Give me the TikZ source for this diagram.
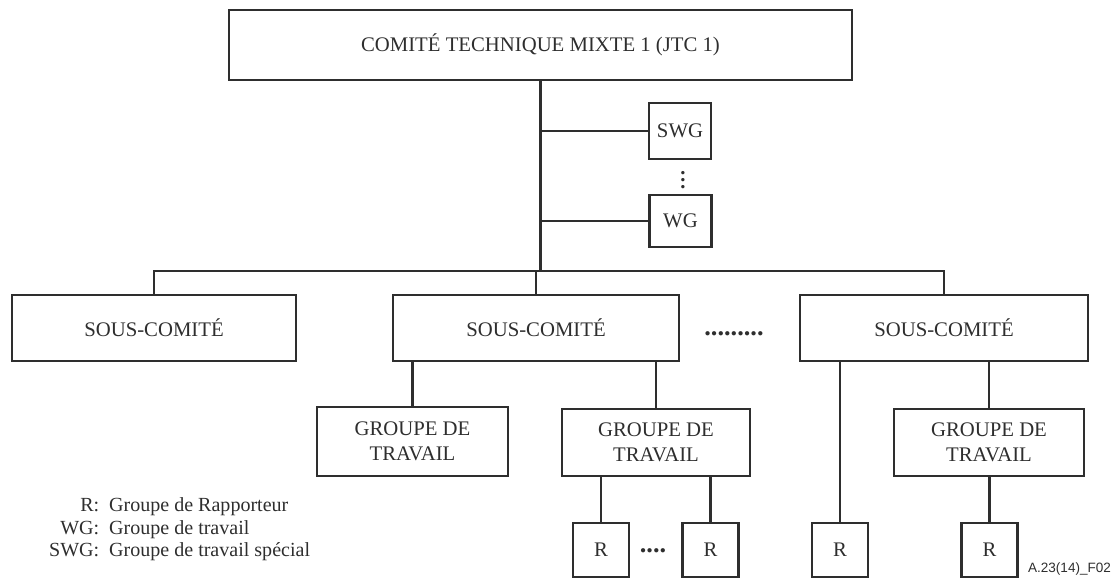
\documentclass[tikz,border=0pt]{standalone}
\usepackage{fontspec}
\setmainfont{Liberation Serif}
\newfontfamily\refsans{Liberation Sans}

\begin{document}
\begin{tikzpicture}[line width=1.3pt, color=black!82,
    boite/.style={rectangle, draw, inner sep=0pt, align=center,
                  font=\fontsize{11.8}{14.2}\selectfont},
    texte/.style={inner sep=0pt, font=\fontsize{11.8}{14.2}\selectfont}]
   \useasboundingbox (0,0) rectangle (22.32,-11.56);

   % comite principal et groupes speciaux
   \node[boite,
         minimum width = 12.46cm,
         minimum height = 1.40cm] (jtc) at (10.81,-0.90) {COMITÉ TECHNIQUE MIXTE 1 (JTC 1)};
   \node[boite,
         minimum width = 1.24cm,
         minimum height = 1.12cm] (swg) at (13.60,-2.62) {SWG};
   \node[boite,
         minimum width = 1.24cm,
         minimum height = 1.04cm] (wg) at (13.61,-4.42) {WG};
   \node[texte, font=\bfseries\fontsize{11.8}{14.2}\selectfont] (vpts) at (13.66,-3.50) {$\vdots$};

   % sous-comites
   \node[boite,
         minimum width = 5.68cm,
         minimum height = 1.32cm] (sc1) at (3.08,-6.56) {SOUS-COMITÉ};
   \node[boite,
         minimum width = 5.72cm,
         minimum height = 1.32cm] (sc2) at (10.72,-6.56) {SOUS-COMITÉ};
   \node[boite,
         minimum width = 5.76cm,
         minimum height = 1.32cm] (sc3) at (18.88,-6.56) {SOUS-COMITÉ};
   \node[texte, font=\bfseries\fontsize{15}{18}\selectfont] (pts) at (14.68,-6.68) {.........};

   % groupes de travail
   \node[boite,
         minimum width = 3.82cm,
         minimum height = 1.38cm] (gt1) at (8.25,-8.83) {GROUPE DE\\TRAVAIL};
   \node[boite,
         minimum width = 3.76cm,
         minimum height = 1.34cm] (gt2) at (13.12,-8.85) {GROUPE DE\\TRAVAIL};
   \node[boite,
         minimum width = 3.80cm,
         minimum height = 1.34cm] (gt3) at (19.78,-8.85) {GROUPE DE\\TRAVAIL};

   % rapporteurs
   \node[boite, minimum width = 1.12cm, minimum height = 1.08cm] (r1) at (12.02,-11.00) {R};
   \node[boite, minimum width = 1.12cm, minimum height = 1.08cm] (r2) at (14.21,-11.00) {R};
   \node[boite, minimum width = 1.12cm, minimum height = 1.08cm] (r3) at (16.80,-11.00) {R};
   \node[boite, minimum width = 1.12cm, minimum height = 1.08cm] (r4) at (19.79,-11.00) {R};
   \node[texte, font=\bfseries\fontsize{15}{18}\selectfont] (rpts) at (13.06,-11.02) {....};

   % legende
   \node[texte, anchor=north west, font=\fontsize{11.4}{12.8}\selectfont] (leg) at (0.96,-9.90)
        {\begin{tabular}{@{}r@{\enspace}l@{}}
          R: & Groupe de Rapporteur\\
          WG: & Groupe de travail\\
          SWG: & Groupe de travail spécial
         \end{tabular}};
   \node[inner sep=0pt, anchor=west, font=\refsans\fontsize{7.7}{9}\selectfont] (ref) at (20.54,-11.38) {A.23(14)\_F02};

   \coordinate (bus) at (10.81,-5.42);
   \draw (jtc.south) -- (bus);
   \draw (swg.west -| jtc.south) -- (swg.west);
   \draw (wg.west -| jtc.south) -- (wg.west);
   \draw (sc1.north) -- (sc1.north |- bus) -- (sc3.north |- bus) -- (sc3.north);
   \draw (sc2.north) -- (sc2.north |- bus);
   \draw (gt1.north) -- (gt1.north |- sc2.south);
   \draw (gt2.north) -- (gt2.north |- sc2.south);
   \draw (gt3.north) -- (gt3.north |- sc3.south);
   \draw (r1.north) -- (r1.north |- gt2.south);
   \draw (r2.north) -- (r2.north |- gt2.south);
   \draw (r3.north) -- (r3.north |- sc3.south);
   \draw (r4.north) -- (r4.north |- gt3.south);
\end{tikzpicture}
\end{document}
